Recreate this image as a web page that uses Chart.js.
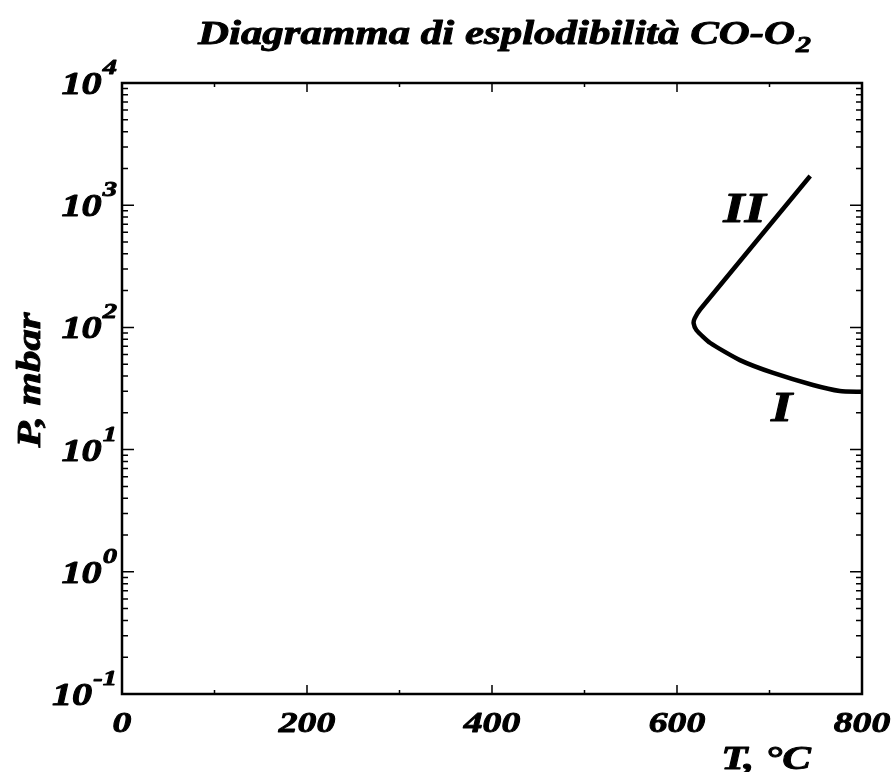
<!DOCTYPE html>
<html lang="it">
<head>
    <meta charset="UTF-8">
    <title>Diagramma di esplodibilità CO-O2</title>
    <script src="https://cdn.jsdelivr.net/npm/chart.js"></script>
    <style>
        html, body { margin: 0; padding: 0; background: #fff; }
        #wrap { width: 893px; height: 772px; }
    </style>
</head>
<body>
    <div id="wrap"><canvas id="chart" width="893" height="772"></canvas></div>

    <script>
        // curve: T in °C, P in mbar
        const tempC = [744, 625, 619, 618, 621, 636, 668, 704, 747, 776, 800];
        const presMbar = [1734, 140, 118, 108, 95, 74.5, 54, 42.4, 33.8, 30.2, 29.7];

        // branch labels
        const branchNames = ['II', 'I'];
        const branchT = [673, 713];
        const branchP = [966, 22.7];

        // axis ticks
        const xTicks = [0, 200, 400, 600, 800];
        const xMinor = [100, 300, 500, 700];
        const yExponents = [-1, 0, 1, 2, 3, 4];

        const SERIF = '"Liberation Serif", "DejaVu Serif", serif';
        const STRETCH = 1.3;

        // draws text stretched horizontally like the original image
        function wideText(ctx, text, x, y, size, align) {
            ctx.save();
            ctx.font = 'italic bold ' + size + 'px ' + SERIF;
            ctx.textBaseline = 'alphabetic';
            const w = ctx.measureText(text).width * STRETCH;
            let left = x;
            if (align === 'center') left = x - w / 2;
            if (align === 'right') left = x - w;
            ctx.translate(left, y);
            ctx.scale(STRETCH, 1);
            ctx.lineWidth = 0.9;
            ctx.lineJoin = 'round';
            ctx.fillText(text, 0, 0);
            ctx.strokeText(text, 0, 0);
            ctx.restore();
            return w;
        }
        function textWidth(ctx, text, size) {
            ctx.save();
            ctx.font = 'italic bold ' + size + 'px ' + SERIF;
            const w = ctx.measureText(text).width * STRETCH;
            ctx.restore();
            return w;
        }

        const framePlugin = {
            id: 'frame',
            afterDraw(chart) {
                const ctx = chart.ctx;
                const xs = chart.scales.x, ys = chart.scales.y;
                const a = chart.chartArea;
                ctx.save();
                ctx.fillStyle = '#000';
                ctx.strokeStyle = '#000';

                // ticks
                ctx.lineWidth = 1.5;
                ctx.beginPath();
                const xt = (v, len) => {
                    const px = xs.getPixelForValue(v);
                    ctx.moveTo(px, a.bottom); ctx.lineTo(px, a.bottom - len);
                    ctx.moveTo(px, a.top); ctx.lineTo(px, a.top + len);
                };
                xTicks.forEach(v => xt(v, 9));
                xMinor.forEach(v => xt(v, 4));
                const yt = (v, len) => {
                    const py = ys.getPixelForValue(v);
                    ctx.moveTo(a.left, py); ctx.lineTo(a.left + len, py);
                    ctx.moveTo(a.right, py); ctx.lineTo(a.right - len, py);
                };
                yExponents.forEach(e => {
                    const base = Math.pow(10, e);
                    yt(base, 12);
                    if (e < 4) {
                        for (let k = 2; k <= 9; k++) yt(k * base, 6);
                    }
                });
                ctx.stroke();

                // frame
                ctx.lineWidth = 2.5;
                ctx.strokeRect(a.left, a.top, a.right - a.left, a.bottom - a.top);

                // y tick labels 10^e
                yExponents.forEach(e => {
                    const py = ys.getPixelForValue(Math.pow(10, e));
                    const sup = String(e);
                    const supW = textWidth(ctx, sup, 22);
                    const right = 117;
                    wideText(ctx, sup, right - supW, py - 9, 22, 'left');
                    wideText(ctx, '10', right - supW - 1, py + 11, 31, 'right');
                });

                // x tick labels
                xTicks.forEach(v => {
                    wideText(ctx, String(v), xs.getPixelForValue(v), 732, 29, 'center');
                });

                // axis titles
                wideText(ctx, 'T, \u00B0C', 766, 769, 33, 'center');
                ctx.save();
                ctx.translate(40, 380);
                ctx.rotate(-Math.PI / 2);
                wideText(ctx, 'P, mbar', 0, 0, 33, 'center');
                ctx.restore();

                // title with subscript
                const main = 'Diagramma di esplodibilit\u00E0 CO-O';
                const mw = textWidth(ctx, main, 33);
                const sw = textWidth(ctx, '2', 23);
                const tl = 504 - (mw + sw) / 2;
                wideText(ctx, main, tl, 44, 33, 'left');
                wideText(ctx, '2', tl + mw + 1, 52, 23, 'left');

                // branch labels
                branchNames.forEach((name, i) => {
                    const px = xs.getPixelForValue(branchT[i]);
                    const py = ys.getPixelForValue(branchP[i]);
                    wideText(ctx, name, px, py + 15, 42, 'center');
                });
                ctx.restore();
            }
        };

        new Chart(document.getElementById('chart'), {
            type: 'scatter',
            data: {
                datasets: [{
                    data: tempC.map((t, i) => ({ x: t, y: presMbar[i] })),
                    showLine: true,
                    borderColor: '#000',
                    borderWidth: 4.5,
                    pointRadius: 0,
                    tension: 0.2,
                    borderCapStyle: 'butt',
                    borderJoinStyle: 'round'
                }]
            },
            options: {
                responsive: false,
                animation: false,
                devicePixelRatio: 1,
                layout: { padding: { left: 122, right: 31, top: 83, bottom: 78 } },
                plugins: { legend: { display: false }, tooltip: { enabled: false } },
                scales: {
                    x: { type: 'linear', min: 0, max: 800, display: false },
                    y: { type: 'logarithmic', min: 0.1, max: 10000, display: false }
                }
            },
            plugins: [framePlugin]
        });
    </script>
</body>
</html>
